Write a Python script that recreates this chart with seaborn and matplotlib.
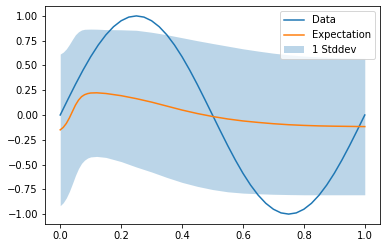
import matplotlib
matplotlib.use("Agg")
import matplotlib.pyplot as plt
import seaborn as sns
import numpy as np

data_x = [0.0, 0.025, 0.05, 0.075, 0.1, 0.125, 0.15, 0.175, 0.2, 0.225,
          0.25, 0.275, 0.3, 0.325, 0.35, 0.375, 0.4, 0.425, 0.45, 0.475,
          0.5, 0.525, 0.55, 0.575, 0.6, 0.625, 0.65, 0.675, 0.7, 0.725,
          0.75, 0.775, 0.8, 0.825, 0.85, 0.875, 0.9, 0.925, 0.95, 0.975, 1.0]
data_y = [0.0, 0.156, 0.309, 0.454, 0.588, 0.707, 0.809, 0.891, 0.951, 0.988,
          1.0, 0.988, 0.951, 0.891, 0.809, 0.707, 0.588, 0.454, 0.309, 0.156,
          0.0, -0.156, -0.309, -0.454, -0.588, -0.707, -0.809, -0.891, -0.951, -0.988,
          -1.0, -0.988, -0.951, -0.891, -0.809, -0.707, -0.588, -0.454, -0.309, -0.156, 0.0]

# Model expectation and standard deviation
model_x = [0.0, 0.01, 0.02, 0.03, 0.04, 0.05, 0.06, 0.07, 0.08, 0.09, 0.10,
           0.12, 0.15, 0.2, 0.25, 0.3, 0.35, 0.4, 0.45, 0.5, 0.55, 0.6,
           0.65, 0.7, 0.75, 0.8, 0.85, 0.9, 0.95, 1.0]
expectation = [-0.15, -0.125, -0.085, -0.03, 0.035, 0.10, 0.15, 0.185, 0.205,
               0.216, 0.222, 0.224, 0.217, 0.195, 0.165, 0.13, 0.09, 0.05,
               0.015, -0.015, -0.04, -0.06, -0.075, -0.088, -0.098, -0.105,
               -0.11, -0.113, -0.115, -0.117]
stddev = [0.765, 0.76, 0.752, 0.742, 0.728, 0.71, 0.69, 0.673, 0.66, 0.65,
          0.645, 0.642, 0.645, 0.665, 0.69, 0.705, 0.72, 0.73, 0.735, 0.737,
          0.735, 0.728, 0.72, 0.712, 0.705, 0.70, 0.695, 0.692, 0.69, 0.688]

fig = plt.figure(figsize=(386 / 72, 248 / 72), dpi=72)
ax = fig.add_axes([45 / 386, 1 - 224 / 248, 335 / 386, 218 / 248])

sns.lineplot(x=data_x, y=data_y, ax=ax, color="C0", label="Data")
sns.lineplot(x=model_x, y=expectation, ax=ax, color="C1", label="Expectation")
mx = np.array(model_x)
ex = np.array(expectation)
sd = np.array(stddev)
ax.fill_between(mx, ex - sd, ex + sd, color="C0", alpha=0.3, linewidth=0,
                label="1 Stddev")

ax.set_yticks([-1.0, -0.75, -0.5, -0.25, 0.0, 0.25, 0.5, 0.75, 1.0])
ax.set_xticks([0.0, 0.2, 0.4, 0.6, 0.8, 1.0])
ax.set_xlim(-0.05, 1.05)
ax.set_ylim(-1.1, 1.1)
ax.legend(loc="upper right")

fig.savefig("out.png", dpi=72)
